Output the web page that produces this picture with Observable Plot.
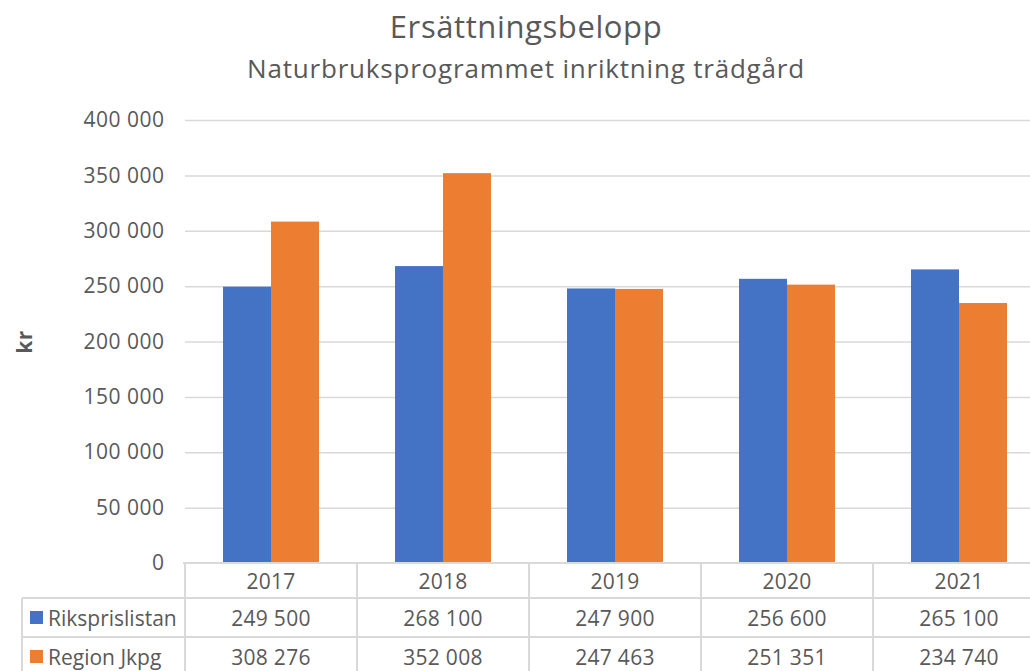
<!DOCTYPE html>
<html><head><meta charset="utf-8">
<script src="https://cdn.jsdelivr.net/npm/d3@7"></script>
<script src="https://cdn.jsdelivr.net/npm/@observablehq/plot@0.6"></script>
<style>
html,body{margin:0;padding:0;overflow:hidden;background:#fff;}
#wrap{position:relative;width:1046px;height:671px;font-family:"Open Sans",Lato,sans-serif;color:#595959;}
.t{position:absolute;left:0;width:1052px;text-align:center;white-space:nowrap;}
#plot{position:absolute;left:0;top:100px;}
#plot text{letter-spacing:0.5px;}
.cell{position:absolute;box-sizing:border-box;display:flex;align-items:center;justify-content:center;font-size:21px;letter-spacing:0.3px;white-space:nowrap;}
.hl{position:absolute;height:2px;background:#d9d9d9;}
.vl{position:absolute;width:2px;background:#d9d9d9;}
.sw{display:inline-block;width:13px;height:13px;margin-right:5px;}
</style></head><body><div id="wrap"></div>
<script>
const title = "Ersättningsbelopp";
const subtitle = "Naturbruksprogrammet inriktning trädgård";
const yLabel = "kr";
const years = ["2017","2018","2019","2020","2021"];
const seriesNames = ["Riksprislistan","Region Jkpg"];
const riksprislistan = [249500,268100,247900,256600,265100];
const regionJkpg = [308276,352008,247463,251351,234740];
const colors = ["#4472c4","#ed7d31"];
const yTicks = [0,50000,100000,150000,200000,250000,300000,350000,400000];

const seriesValues = [riksprislistan, regionJkpg];
const data = years.flatMap((yr,i)=>seriesNames.map((s,j)=>({year:yr, series:s, value:seriesValues[j][i]})));
const fmt = d3.formatLocale({decimal:",", thousands:"\u00a0", grouping:[3], currency:["","kr"]}).format(",");

const wrap = document.getElementById("wrap");
const t1 = document.createElement("div"); t1.className="t"; t1.textContent=title;
t1.style.cssText="top:5px;font-size:31px;letter-spacing:0.6px;"; wrap.appendChild(t1);
const t2 = document.createElement("div"); t2.className="t"; t2.textContent=subtitle;
t2.style.cssText="top:50px;font-size:26px;letter-spacing:0.8px;"; wrap.appendChild(t2);

const W=1046, MT=20, PH=443, MB=10, ML=183;
const plot = Plot.plot({
  width:W, height:MT+PH+MB, marginTop:MT, marginBottom:MB, marginLeft:ML, marginRight:0,
  style:{fontFamily:'"Open Sans",Lato,sans-serif', fontSize:"21px", color:"#595959", background:"transparent", overflow:"visible"},
  fx:{domain:years, padding:0, axis:null},
  x:{domain:seriesNames, axis:null, paddingInner:0, paddingOuter:0.76},
  y:{domain:[0,400000], ticks:yTicks, tickFormat:fmt, tickSize:0, tickPadding:21, label:yLabel, labelArrow:"none", labelAnchor:"center", labelOffset:168},
  color:{domain:seriesNames, range:colors},
  marks:[
    Plot.ruleY(yTicks.filter(t=>t>0), {stroke:"#d9d9d9", strokeWidth:1.5, strokeOpacity:1}),
    Plot.barY(data, {fx:"year", x:"series", y:"value", fill:"series"})
  ]
});
plot.id="plot";
wrap.appendChild(plot);
plot.querySelectorAll("text").forEach(t=>{
  const s=t.textContent.replace(/[←→↑↓]/g,"").trim();
  if(s===yLabel){ t.textContent=yLabel; t.setAttribute("font-weight","bold"); t.setAttribute("font-size","21px"); }
});

const fx = plot.scale("fx");
const step = fx.step || (W-ML)/years.length;
const colX = years.map((yr,i)=> (fx.apply ? fx.apply(yr) : ML+i*step));
const bw = fx.bandwidth || step;
const top0 = 100+MT+PH;
const rows = [top0, top0+35, top0+74, top0+113];
const tableLeft = 22;
function add(cls, css, html){const d=document.createElement("div"); d.className=cls; d.style.cssText=css; if(html!=null) d.innerHTML=html; wrap.appendChild(d); return d;}
add("hl", `left:${ML}px;top:${rows[0]-1}px;width:${W-ML}px;`);
add("hl", `left:${tableLeft}px;top:${rows[1]-1}px;width:${W-tableLeft}px;`);
add("hl", `left:${tableLeft}px;top:${rows[2]-1}px;width:${W-tableLeft}px;`);
colX.forEach(x=>add("vl", `left:${x-1}px;top:${rows[0]}px;height:${671-rows[0]}px;`));
add("vl", `left:${tableLeft-1}px;top:${rows[1]}px;height:${671-rows[1]}px;`);
years.forEach((yr,i)=>add("cell", `left:${colX[i]}px;top:${rows[0]}px;width:${bw}px;height:35px;`, yr));
seriesNames.forEach((s,j)=>{
  const y=rows[1+j], h=rows[2+j]-rows[1+j];
  add("cell", `left:${tableLeft+8}px;top:${y}px;width:${ML-tableLeft-8}px;height:${h}px;justify-content:flex-start;letter-spacing:0;`, `<span class="sw" style="background:${colors[j]}"></span>${s}`);
  years.forEach((yr,i)=>add("cell", `left:${colX[i]}px;top:${y}px;width:${bw}px;height:${h}px;`, fmt(seriesValues[j][i])));
});
</script></body></html>
